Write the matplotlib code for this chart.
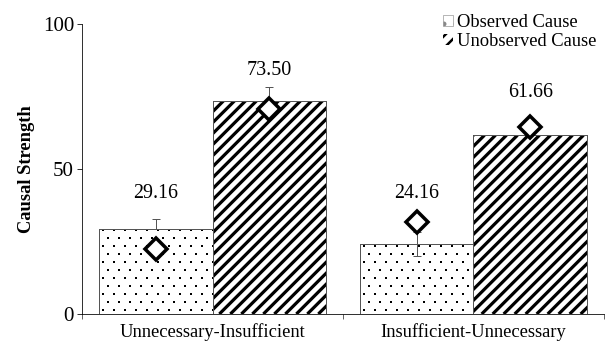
import numpy as np
import matplotlib
matplotlib.use("Agg")
import matplotlib.pyplot as plt
from matplotlib.collections import LineCollection
from matplotlib.patches import Patch

# data
categories = ["Unnecessary-Insufficient", "Insufficient-Unnecessary"]
observed = [29.16, 24.16]
unobserved = [73.50, 61.66]
observed_err_lo = [0.0, 4.2]
observed_err_hi = [3.6, 4.2]
unobserved_err_lo = [0.0, 0.0]
unobserved_err_hi = [4.8, 3.5]
observed_diamond = [22.4, 31.7]
unobserved_diamond = [70.7, 64.5]
observed_label_y = [41.4, 41.4]
unobserved_label_y = [84.1, 76.5]

plt.rcParams['font.family'] = ['Liberation Serif', 'DejaVu Serif']

fig = plt.figure(figsize=(608 / 72, 346 / 72), dpi=72)
ax = fig.add_axes([0.1349, 0.0925, 0.9934 - 0.1349, 0.9306 - 0.0925])
ax.set_xlim(0, 2)
ax.set_ylim(0, 100)

x = np.arange(len(categories)) + 0.5
w = 0.435
edge = "#555555"

# size of one pixel in data units (axes is fixed, so this is stable)
bbox = ax.get_window_extent()
px_x = 2.0 / bbox.width
px_y = 100.0 / bbox.height


def stripes(bar, spacing=11, lw=3.2):
    # diagonal black stripes clipped to the bar
    x0, y0 = bar.get_x(), bar.get_y()
    wp = bar.get_width() / px_x
    hp = bar.get_height() / px_y
    segs = []
    for c in np.arange(-hp, wp + spacing, spacing):
        segs.append([(x0 + c * px_x, y0), (x0 + (c + hp) * px_x, y0 + hp * px_y)])
    lc = LineCollection(segs, colors="black", linewidths=lw, capstyle="butt", zorder=2.05)
    ax.add_collection(lc)
    lc.set_clip_path(bar)


def dots(bar, dx=11, dy=8, size=2.5):
    # staggered grid of small dots clipped to the bar
    x0, y0 = bar.get_x(), bar.get_y()
    wp = bar.get_width() / px_x
    hp = bar.get_height() / px_y
    xs, ys = [], []
    for i, r in enumerate(np.arange(dy / 2, hp + dy, dy)):
        off = dx / 2 if i % 2 else 0
        for c in np.arange(4 + off, wp + dx, dx):
            xs.append(x0 + c * px_x)
            ys.append(y0 + r * px_y)
    sc = ax.scatter(xs, ys, s=size, marker="s", color="black", linewidths=0, zorder=2.05)
    sc.set_clip_path(bar)


b1 = ax.bar(x - w / 2, observed, w, color="white", edgecolor=edge, linewidth=1, zorder=2)
b2 = ax.bar(x + w / 2, unobserved, w, color="white", edgecolor=edge, linewidth=1, zorder=2)
for p in b1:
    dots(p)
for p in b2:
    stripes(p)
# outlines on top of the fills
ax.bar(x - w / 2, observed, w, fill=False, edgecolor=edge, linewidth=1, zorder=2.1)
ax.bar(x + w / 2, unobserved, w, fill=False, edgecolor=edge, linewidth=1, zorder=2.1)

ax.errorbar(x - w / 2, observed, yerr=[observed_err_lo, observed_err_hi], fmt="none",
            ecolor=edge, elinewidth=1, capsize=4, capthick=1, zorder=3)
ax.errorbar(x + w / 2, unobserved, yerr=[unobserved_err_lo, unobserved_err_hi], fmt="none",
            ecolor=edge, elinewidth=1, capsize=4, capthick=1, zorder=3)

ax.plot(x - w / 2, observed_diamond, "D", ms=16, mfc="white", mec="black", mew=3.5,
        linestyle="none", zorder=4)
ax.plot(x + w / 2, unobserved_diamond, "D", ms=16, mfc="white", mec="black", mew=3.5,
        linestyle="none", zorder=4)

for xi, v, ly in zip(x - w / 2, observed, observed_label_y):
    ax.text(xi, ly, f"{v:.2f}", ha="center", va="center", fontsize=20)
for xi, v, ly in zip(x + w / 2, unobserved, unobserved_label_y):
    ax.text(xi, ly, f"{v:.2f}", ha="center", va="center", fontsize=20)

ax.set_yticks([0, 50, 100])
ax.set_xticks(x)
ax.set_xticklabels(categories)
ax.set_xticks([0, 1, 2], minor=True)
ax.tick_params(axis="x", which="major", length=0, labelsize=18.5, pad=9)
ax.tick_params(axis="x", which="minor", length=5, direction="out")
ax.tick_params(axis="y", length=5, labelsize=21, pad=3)
ax.spines["top"].set_visible(False)
ax.spines["right"].set_visible(False)
ax.set_ylabel("Causal Strength", fontsize=18.5, fontweight="bold", labelpad=8)

# legend proxies with small hatched boxes
plt.rcParams['hatch.linewidth'] = 2.5
h1 = Patch(facecolor="white", edgecolor="#888888", hatch=".", linewidth=0.6)
h1.set_hatch_linewidth(0.5)
h2 = Patch(facecolor="white", edgecolor="black", hatch="//", linewidth=0)
ax.legend(handles=[h1, h2], labels=["Observed Cause", "Unobserved Cause"],
          loc="upper right", bbox_to_anchor=(1.0, 1.06), frameon=False, fontsize=18.5,
          handlelength=0.5, handleheight=0.5, handletextpad=0.25, labelspacing=0.1,
          borderaxespad=0)

fig.savefig("out.png", dpi=72)
